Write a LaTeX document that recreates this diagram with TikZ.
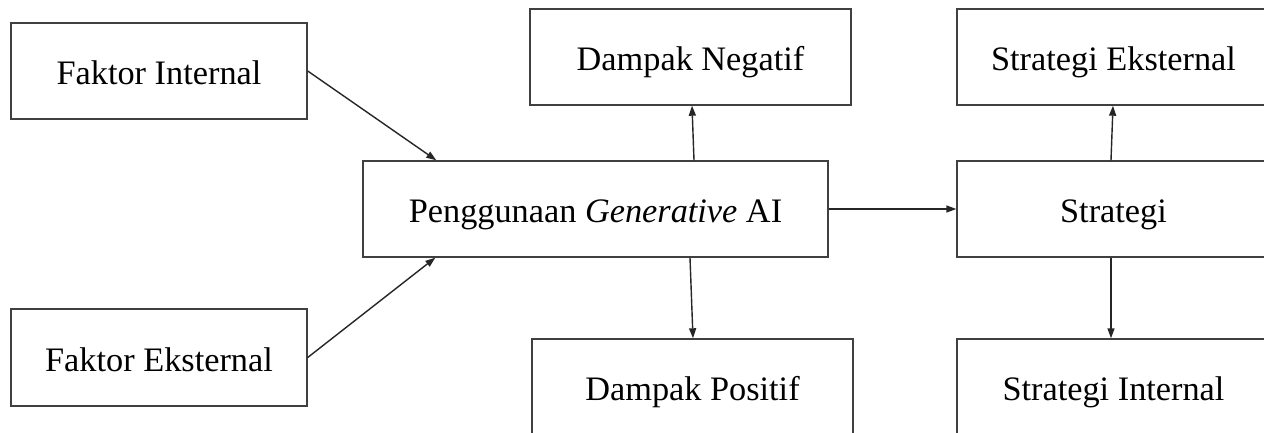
\documentclass[tikz,border=0pt]{standalone}
\usepackage{fontspec}
\setmainfont{Liberation Serif}
\usetikzlibrary{arrows.meta,calc}

\tikzset{
  box/.style={draw=black!75, line width=1.4pt, rectangle, inner sep=0pt,
              minimum height=96pt, align=center,
              text height=30pt, text depth=3pt,
              font=\fontsize{34.3}{40}\selectfont},
  link/.style={draw=black!85, line width=1.4pt,
               -{Triangle[length=10pt,width=7pt]}}
}

\begin{document}
\begin{tikzpicture}[x=1pt,y=-1pt]
  \useasboundingbox[fill=white] (0,0) rectangle (1264,433);

  % left column: factors
  \node[box, minimum width=296pt] (fi) at (159,71) {Faktor Internal};
  \node[box, minimum width=296pt, minimum height=97pt] (fe) at (159,357.5) {Faktor Eksternal};

  % centre
  \node[box, minimum width=465pt] (pg) at (595.5,209) {Penggunaan \textit{Generative} AI};

  % impacts
  \node[box, minimum width=321pt] (dn) at (690.5,57) {Dampak Negatif};
  \node[box, minimum width=321pt] (dp) at (692.5,387) {Dampak Positif};

  % strategies
  \node[box, minimum width=313pt] (se) at (1113.5,57) {Strategi Eksternal};
  \node[box, minimum width=313pt] (st) at (1113.5,209) {Strategi};
  \node[box, minimum width=313pt] (si) at (1113.5,387) {Strategi Internal};

  % connectors
  \draw[link] (fi.east) -- ($(pg.north west)+(74,0)$);
  \draw[link] (fe.east) -- ($(pg.south west)+(73,0)$);
  \draw[link] ($(pg.north)+(98.5,0)$) -- ($(dn.south)+(1.5,0)$);
  \draw[link] ($(pg.south)+(94.5,0)$) -- ($(dp.north)+(0.5,0)$);
  \draw[link] (pg.east) -- (st.west);
  \draw[link] ($(st.north)+(-2.5,0)$) -- ($(se.south)+(-0.5,0)$);
  \draw[link] ($(st.south)+(-2.5,0)$) -- ($(si.north)+(-2.5,0)$);
\end{tikzpicture}
\end{document}
